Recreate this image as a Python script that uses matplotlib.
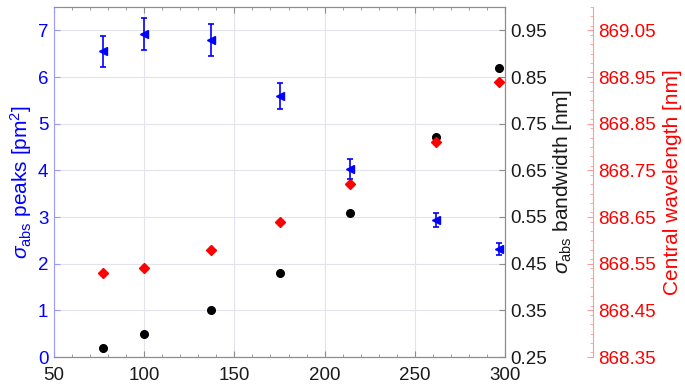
import matplotlib
matplotlib.use("Agg")
import matplotlib.pyplot as plt
from matplotlib.ticker import MultipleLocator

plt.rcParams['font.family'] = ['Liberation Sans', 'DejaVu Sans']
plt.rcParams['mathtext.fontset'] = 'custom'
plt.rcParams['mathtext.rm'] = 'Liberation Sans'
plt.rcParams['mathtext.it'] = 'Liberation Sans:italic'

# data
x_vals = [77, 100, 137, 175.5, 214, 262, 296.5]
peaks = [6.55, 6.93, 6.80, 5.59, 4.03, 2.93, 2.31]
peaks_err = [0.33, 0.345, 0.34, 0.28, 0.21, 0.15, 0.13]
bandwidth = [0.27, 0.30, 0.35, 0.43, 0.559, 0.721, 0.87]
central_wl = [868.53, 868.54, 868.58, 868.64, 868.72, 868.81, 868.94]

x_ticks = [50, 100, 150, 200, 250, 300]
left_ticks = [0, 1, 2, 3, 4, 5, 6, 7]
bw_ticks = [0.25, 0.35, 0.45, 0.55, 0.65, 0.75, 0.85, 0.95]
wl_ticks = [868.35, 868.45, 868.55, 868.65, 868.75, 868.85, 868.95, 869.05]

BLUE = '#0000ff'
LBLUE = '#9a9aff'
RED = '#ff0000'
LRED = '#ff9a9a'
GRAY = '#8c8c8c'
GRID = '#e3e3ee'
FS = 13.5
LFS = 15

fig = plt.figure(figsize=(6.85, 3.84), dpi=100)
ax = fig.add_axes([54/685, 27/384, (505-54)/685, (357-7)/384])

ax.set_xlim(50, 300)
ax.set_ylim(0, 7.5)
ax.set_xticks(x_ticks)
ax.xaxis.set_minor_locator(MultipleLocator(10))
ax.set_yticks(left_ticks)
ax.grid(True, which='major', color=GRID, lw=0.8)
ax.set_axisbelow(True)
ax.tick_params(axis='x', which='both', direction='in', top=True, colors=GRAY,
               labelcolor='#1a1a1a', labelsize=FS, pad=7)
ax.tick_params(axis='x', which='major', length=4)
ax.tick_params(axis='x', which='minor', length=2.5)
ax.tick_params(axis='y', direction='in', colors=LBLUE, labelcolor=BLUE,
               labelsize=FS, length=4, pad=4)
for s in ax.spines.values():
    s.set_color(GRAY)
    s.set_linewidth(0.8)
ax.spines['left'].set_color(LBLUE)
ax.set_ylabel(r'$\sigma_{\rm abs}$ peaks [pm$^2$]', color=BLUE, fontsize=LFS, labelpad=3)

# black bandwidth axis
ax2 = ax.twinx()
ax2.set_ylim(0.25, 1.0)
ax2.set_yticks(bw_ticks)
ax2.set_yticklabels([f'{t:.2f}' for t in bw_ticks])
ax2.tick_params(axis='y', direction='in', colors=GRAY, labelcolor='#1a1a1a',
                labelsize=FS, length=4, pad=4)
for s in ax2.spines.values():
    s.set_color(GRAY)
    s.set_linewidth(0.8)
ax2.spines['left'].set_visible(False)
ax2.set_ylabel(r'$\sigma_{\rm abs}$ bandwidth [nm]', color='#1a1a1a', fontsize=LFS, labelpad=3)
ax2.plot(x_vals, bandwidth, 'o', color='black', ms=5.5, clip_on=False)

# red central wavelength axis
ax3 = ax.twinx()
ax3.spines['right'].set_position(('axes', (593-54)/(505-54)))
for k in ['left', 'top', 'bottom']:
    ax3.spines[k].set_visible(False)
ax3.spines['right'].set_color(LRED)
ax3.spines['right'].set_linewidth(0.8)
ax3.set_ylim(868.35, 869.10)
ax3.set_yticks(wl_ticks)
ax3.set_yticklabels([f'{t:.2f}' for t in wl_ticks])
ax3.yaxis.set_minor_locator(MultipleLocator(0.02))
ax3.tick_params(axis='y', which='both', direction='in', colors=LRED, labelcolor=RED,
                labelsize=FS, pad=4)
ax3.tick_params(axis='y', which='major', length=4)
ax3.tick_params(axis='y', which='minor', length=2)
ax3.set_ylabel('Central wavelength [nm]', color=RED, fontsize=LFS, labelpad=5)
ax3.plot(x_vals, central_wl, 'D', color=RED, ms=5, clip_on=False)

# blue peaks with error bars
ax4 = ax.twinx()
ax4.set_ylim(0, 7.5)
ax4.axis('off')
ax4.errorbar(x_vals, peaks, yerr=peaks_err, fmt='<', color=BLUE, ms=6,
             capsize=2.5, elinewidth=1.2, capthick=1.2, clip_on=False)

fig.savefig('out.png', dpi=100)
